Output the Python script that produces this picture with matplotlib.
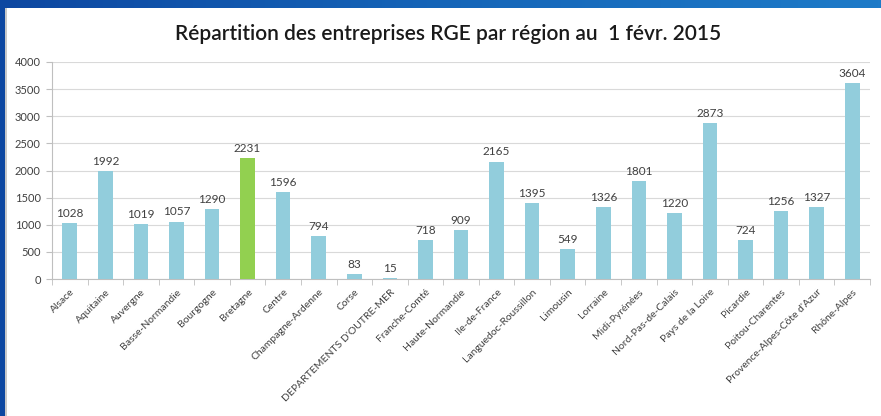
import matplotlib
matplotlib.use("Agg")
import matplotlib.pyplot as plt
import numpy as np
from matplotlib.colors import LinearSegmentedColormap

plt.rcParams['font.family'] = ['Lato', 'DejaVu Sans']

regions = ["Alsace", "Aquitaine", "Auvergne", "Basse-Normandie", "Bourgogne",
           "Bretagne", "Centre", "Champagne-Ardenne", "Corse",
           "DEPARTEMENTS D'OUTRE-MER", "Franche-Comté", "Haute-Normandie",
           "Ile-de-France", "Languedoc-Roussillon", "Limousin", "Lorraine",
           "Midi-Pyrénées", "Nord-Pas-de-Calais", "Pays de la Loire", "Picardie",
           "Poitou-Charentes", "Provence-Alpes-Côte d'Azur", "Rhône-Alpes"]
counts = [1028, 1992, 1019, 1057, 1290, 2231, 1596, 794, 83, 15, 718, 909,
          2165, 1395, 549, 1326, 1801, 1220, 2873, 724, 1256, 1327, 3604]
highlight = "Bretagne"
yticks = [0, 500, 1000, 1500, 2000, 2500, 3000, 3500, 4000]
title = "Répartition des entreprises RGE par région au  1 févr. 2015"

W, H = 881, 416
fig = plt.figure(figsize=(W / 100, H / 100), dpi=100)
fig.patch.set_facecolor("white")

# blue frame (top gradient band + left band)
top = fig.add_axes([0, 1 - 8 / H, 1, 8 / H])
grad = np.linspace(0, 1, 256).reshape(1, -1)
cm = LinearSegmentedColormap.from_list("b", ["#0D47A1", "#1565B8", "#1E7BC8"])
top.imshow(grad, aspect="auto", cmap=cm, extent=[0, 1, 0, 1])
top.axis("off")
left = fig.add_axes([0, 0, 5 / W, 1 - 8 / H])
left.set_facecolor("#0D47A1")
left.set_xticks([]); left.set_yticks([])
for s in left.spines.values():
    s.set_visible(False)
fig.add_artist(plt.Rectangle((5 / W, 0), 2 / W, 1 - 8 / H, transform=fig.transFigure,
                             color="#C8C8C8", lw=0))

ax = fig.add_axes([52 / W, 1 - 279 / H, (870 - 52) / W, (279 - 62) / H])
x = np.arange(len(regions))
colors = ["#92D050" if r == highlight else "#92CDDC" for r in regions]
ax.bar(x, counts, width=0.41, color=colors, zorder=3)
for xi, v in zip(x, counts):
    ax.annotate(str(v), (xi, v), xytext=(0, 3), textcoords="offset points",
                ha="center", va="bottom", fontsize=8.5, color="#404040")

ax.set_xlim(-0.5, len(regions) - 0.5)
ax.set_ylim(0, 4000)
ax.set_yticks(yticks)
ax.set_yticklabels([str(t) for t in yticks], fontsize=8, color="#404040")
ax.yaxis.grid(True, color="#D9D9D9", lw=0.8, zorder=0)
ax.set_axisbelow(True)

ax.set_xticks(x)
ax.set_xticklabels(regions, rotation=45, ha="right", rotation_mode="anchor",
                   fontsize=7.5, color="#404040")
ax.tick_params(axis="x", length=0, pad=6)
ax.set_xticks(np.arange(-0.5, len(regions) + 0.5, 1), minor=True)
ax.tick_params(axis="x", which="minor", length=4, color="#BFBFBF")
ax.tick_params(axis="y", length=4, color="#BFBFBF", pad=4)

for s in ["top", "right"]:
    ax.spines[s].set_visible(False)
for s in ["left", "bottom"]:
    ax.spines[s].set_color("#BFBFBF")
    ax.spines[s].set_linewidth(0.8)

fig.text(448 / W, 1 - 34 / H, title, ha="center", va="center", fontsize=15,
         color="#1A1A1A", fontweight="semibold")

fig.savefig("out.png", dpi=100)
